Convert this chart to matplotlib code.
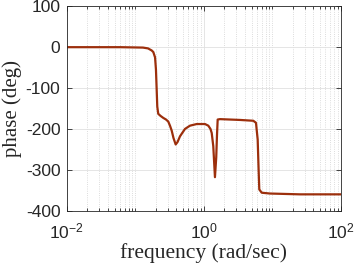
import numpy as np
import matplotlib
matplotlib.use("Agg")
import matplotlib.pyplot as plt
from matplotlib.ticker import FixedLocator, FuncFormatter, NullFormatter

# phase response
freq = [0.01, 0.06, 0.130, 0.154, 0.174, 0.184, 0.195, 0.201, 0.206, 0.210,
        0.217, 0.234, 0.257, 0.282, 0.304, 0.322, 0.341, 0.362, 0.390, 0.415,
        0.451, 0.533, 0.631, 0.791, 1.045, 1.167, 1.256, 1.31, 1.38, 1.46,
        1.524, 1.564, 1.60, 1.73, 3.39, 5.30, 5.80, 6.14, 6.31, 6.48,
        7.03, 9.29, 25.5, 100.0]
phase = [0, 0, -1, -3, -8, -12, -25, -55, -105, -145,
         -163, -168, -173, -177, -182, -192, -204, -222, -238, -232,
         -218, -200, -192, -188, -188, -192, -200, -210, -242, -318,
         -270, -215, -177, -176, -178, -180, -185, -226, -290, -348,
         -356, -358, -360, -360]

xticks = [1e-2, 1e0, 1e2]
yticks = [-400, -300, -200, -100, 0, 100]

plt.rcParams['mathtext.fontset'] = 'custom'
plt.rcParams['mathtext.rm'] = 'Liberation Sans'
plt.rcParams['mathtext.it'] = 'Liberation Sans'
plt.rcParams['font.family'] = 'Liberation Sans'
plt.rcParams['axes.unicode_minus'] = False

fig = plt.figure(figsize=(3.54, 2.68), dpi=100)
ax = fig.add_axes([0.1884, 0.2138, 0.774, 0.7627])

ax.semilogx(freq, phase, color='#9c2f0c', lw=1.6)

ax.set_xlim(1e-2, 1e2)
ax.set_ylim(-400, 100)
ax.xaxis.set_major_locator(FixedLocator(xticks))
minor = [k * 10.0**n for n in range(-2, 2) for k in range(1, 10) if k * 10.0**n not in xticks]
ax.xaxis.set_minor_locator(FixedLocator(minor))
ax.xaxis.set_minor_formatter(NullFormatter())
ax.xaxis.set_major_formatter(FuncFormatter(lambda v, p: r'$10^{%d}$' % round(np.log10(v))))
ax.set_yticks(yticks)

ax.grid(True, which='major', color='0.88', lw=0.6)
ax.grid(True, which='minor', axis='x', color='0.82', lw=0.6, ls=':')
ax.set_axisbelow(True)

grey = '0.15'
for s in ax.spines.values():
    s.set_color(grey)
    s.set_linewidth(0.6)
ax.tick_params(which='both', direction='in', top=True, right=True, colors=grey,
               labelsize=12.5, width=0.6)
ax.tick_params(which='major', length=3.5)
ax.tick_params(which='minor', length=2)
ax.tick_params(axis='x', which='major', pad=8)
ax.tick_params(axis='y', which='major', pad=4.5)

ax.set_xlabel('frequency (rad/sec)', family='Liberation Serif', fontsize=15.5, color=grey, labelpad=1)
ax.set_ylabel('phase (deg)', family='Liberation Serif', fontsize=15, color=grey, labelpad=3)

fig.savefig('out.png', dpi=100)
